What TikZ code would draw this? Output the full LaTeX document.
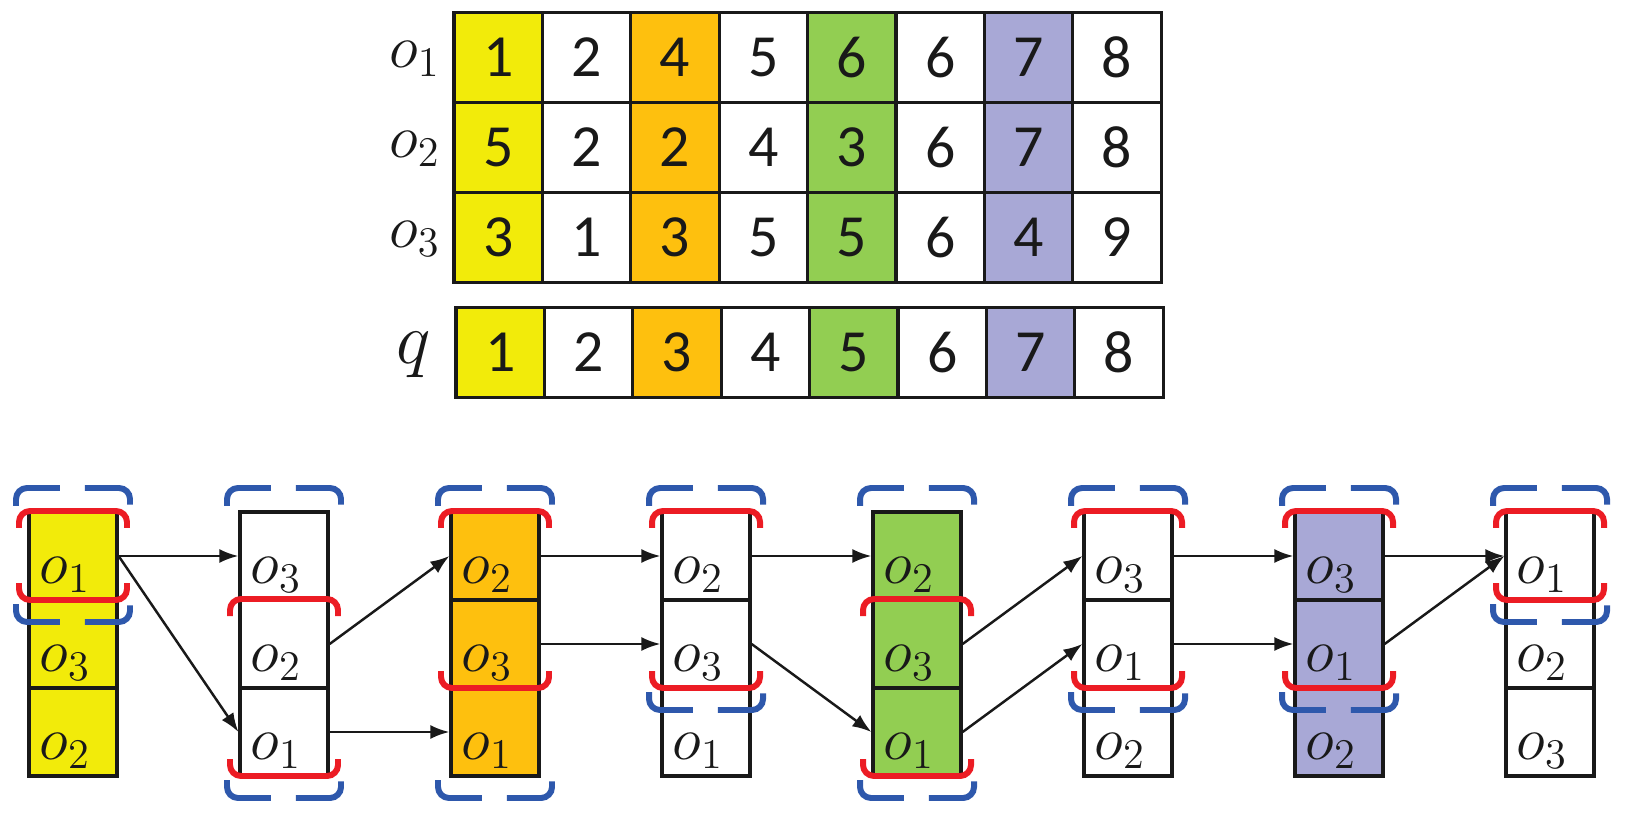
\documentclass[tikz,border=0pt]{standalone}
\usepackage{fontspec}
\setmainfont{Carlito}
\usepackage{tikz}
\usetikzlibrary{arrows.meta}

\definecolor{cyel}{RGB}{242,235,10}
\definecolor{cora}{RGB}{254,192,14}
\definecolor{cgre}{RGB}{146,206,82}
\definecolor{cpur}{RGB}{168,168,214}
\definecolor{cred}{RGB}{236,28,36}
\definecolor{cblu}{RGB}{46,88,172}

\begin{document}
\begin{tikzpicture}[x=0.01cm, y=-0.01cm,
    cell/.style={draw=black!90, line width=0.9pt, minimum width=0.884cm, minimum height=0.9cm,
        inner sep=0pt, text=black!90, font=\fontsize{17}{20}\selectfont},
    obj/.style={draw=black!90, line width=0.9pt, minimum width=0.88cm, minimum height=0.88cm,
        inner sep=0pt, text=black!90, font=\fontsize{17.28}{20}\selectfont, text height=15.4pt, text depth=0pt},
    lbl/.style={anchor=base east, inner sep=0pt, text=black!90, font=\fontsize{17.28}{20}\selectfont},
    nxt/.style={-{Latex[length=0.19cm,width=0.14cm]}, line width=0.7pt, black!90},
    redbr/.style={cred, line width=1.7pt, rounded corners=0.11cm},
    blubr/.style={cblu, line width=1.7pt, rounded corners=0.11cm, dash pattern=on 0.57cm off 0.25cm}]

    \useasboundingbox (0,0) rectangle (1628,813);

    % tabella o1, o2, o3
    \foreach \v/\f [count=\c] in {1/cyel, 2/white, 4/cora, 5/white, 6/cgre, 6/white, 7/cpur, 8/white}
        \node[cell, fill=\f] (ta\c) at (409.8+88.4*\c, 57.5) {\v};
    \foreach \v/\f [count=\c] in {5/cyel, 2/white, 2/cora, 4/white, 3/cgre, 6/white, 7/cpur, 8/white}
        \node[cell, fill=\f] (tb\c) at (409.8+88.4*\c, 147.5) {\v};
    \foreach \v/\f [count=\c] in {3/cyel, 1/white, 3/cora, 5/white, 5/cgre, 6/white, 4/cpur, 9/white}
        \node[cell, fill=\f] (tc\c) at (409.8+88.4*\c, 237.5) {\v};

    \node[lbl] (lo1) at (441,67.5) {$o_1$};
    \node[lbl] (lo2) at (441,157.5) {$o_2$};
    \node[lbl] (lo3) at (441,247.5) {$o_3$};

    % query q
    \foreach \v/\f [count=\c] in {1/cyel, 2/white, 3/cora, 4/white, 5/cgre, 6/white, 7/cpur, 8/white}
        \node[cell, fill=\f] (q\c) at (411.8+88.4*\c, 352.5) {\v};
    \node[lbl, font=\fontsize{20.74}{24}\selectfont] (lq) at (431,364) {$q$};

    % colonne ordinate
    \foreach \f/\ra/\rb/\rc [count=\i] in {cyel/1/3/2, white/3/2/1, cora/2/3/1, white/2/3/1,
                                         cgre/2/3/1, white/3/1/2, cpur/3/1/2, white/1/2/3} {
        \node[obj, fill=\f] (c\i-1) at (-138+211*\i, 556) {$o_\ra$\hspace*{4.5pt}};
        \node[obj, fill=\f] (c\i-2) at (-138+211*\i, 644) {$o_\rb$\hspace*{4.5pt}};
        \node[obj, fill=\f] (c\i-3) at (-138+211*\i, 732) {$o_\rc$\hspace*{4.5pt}};
    }

    % frecce
    \draw[nxt] (c1-1.east) -- (c2-1.west);
    \draw[nxt] (c1-1.east) -- (c2-3.west);
    \draw[nxt] (c2-2.east) -- (c3-1.west);
    \draw[nxt] (c2-3.east) -- (c3-3.west);
    \draw[nxt] (c3-1.east) -- (c4-1.west);
    \draw[nxt] (c3-2.east) -- (c4-2.west);
    \draw[nxt] (c4-1.east) -- (c5-1.west);
    \draw[nxt] (c4-2.east) -- (c5-3.west);
    \draw[nxt] (c5-2.east) -- (c6-1.west);
    \draw[nxt] (c5-3.east) -- (c6-2.west);
    \draw[nxt] (c6-1.east) -- (c7-1.west);
    \draw[nxt] (c6-2.east) -- (c7-2.west);
    \draw[nxt] (c7-1.east) -- (c8-1.west);
    \draw[nxt] (c7-2.east) -- (c8-1.west);

    % parentesi blu tratteggiate
    \foreach \i/\t/\b in {1/0/1, 2/0/3, 3/0/3, 4/0/2, 5/0/3, 6/0/2, 7/0/2, 8/0/1} {
        \draw[blubr] (-195+211*\i, 506+88*\t) -- (-195+211*\i, 488+88*\t)
            -- (-81+211*\i, 488+88*\t) -- (-81+211*\i, 506+88*\t);
        \draw[blubr] (-195+211*\i, 516+88*\b) -- (-195+211*\i, 534+88*\b)
            -- (-81+211*\i, 534+88*\b) -- (-81+211*\i, 516+88*\b);
    }

    % parentesi rosse
    \foreach \i/\t/\b in {1/0/1, 2/1/3, 3/0/2, 4/0/2, 5/1/3, 6/0/2, 7/0/2, 8/0/1} {
        \draw[redbr] (-192+211*\i, 528+88*\t) -- (-192+211*\i, 511+88*\t)
            -- (-84+211*\i, 511+88*\t) -- (-84+211*\i, 528+88*\t);
        \draw[redbr] (-192+211*\i, 495+88*\b) -- (-192+211*\i, 512+88*\b)
            -- (-84+211*\i, 512+88*\b) -- (-84+211*\i, 495+88*\b);
    }
\end{tikzpicture}
\end{document}
